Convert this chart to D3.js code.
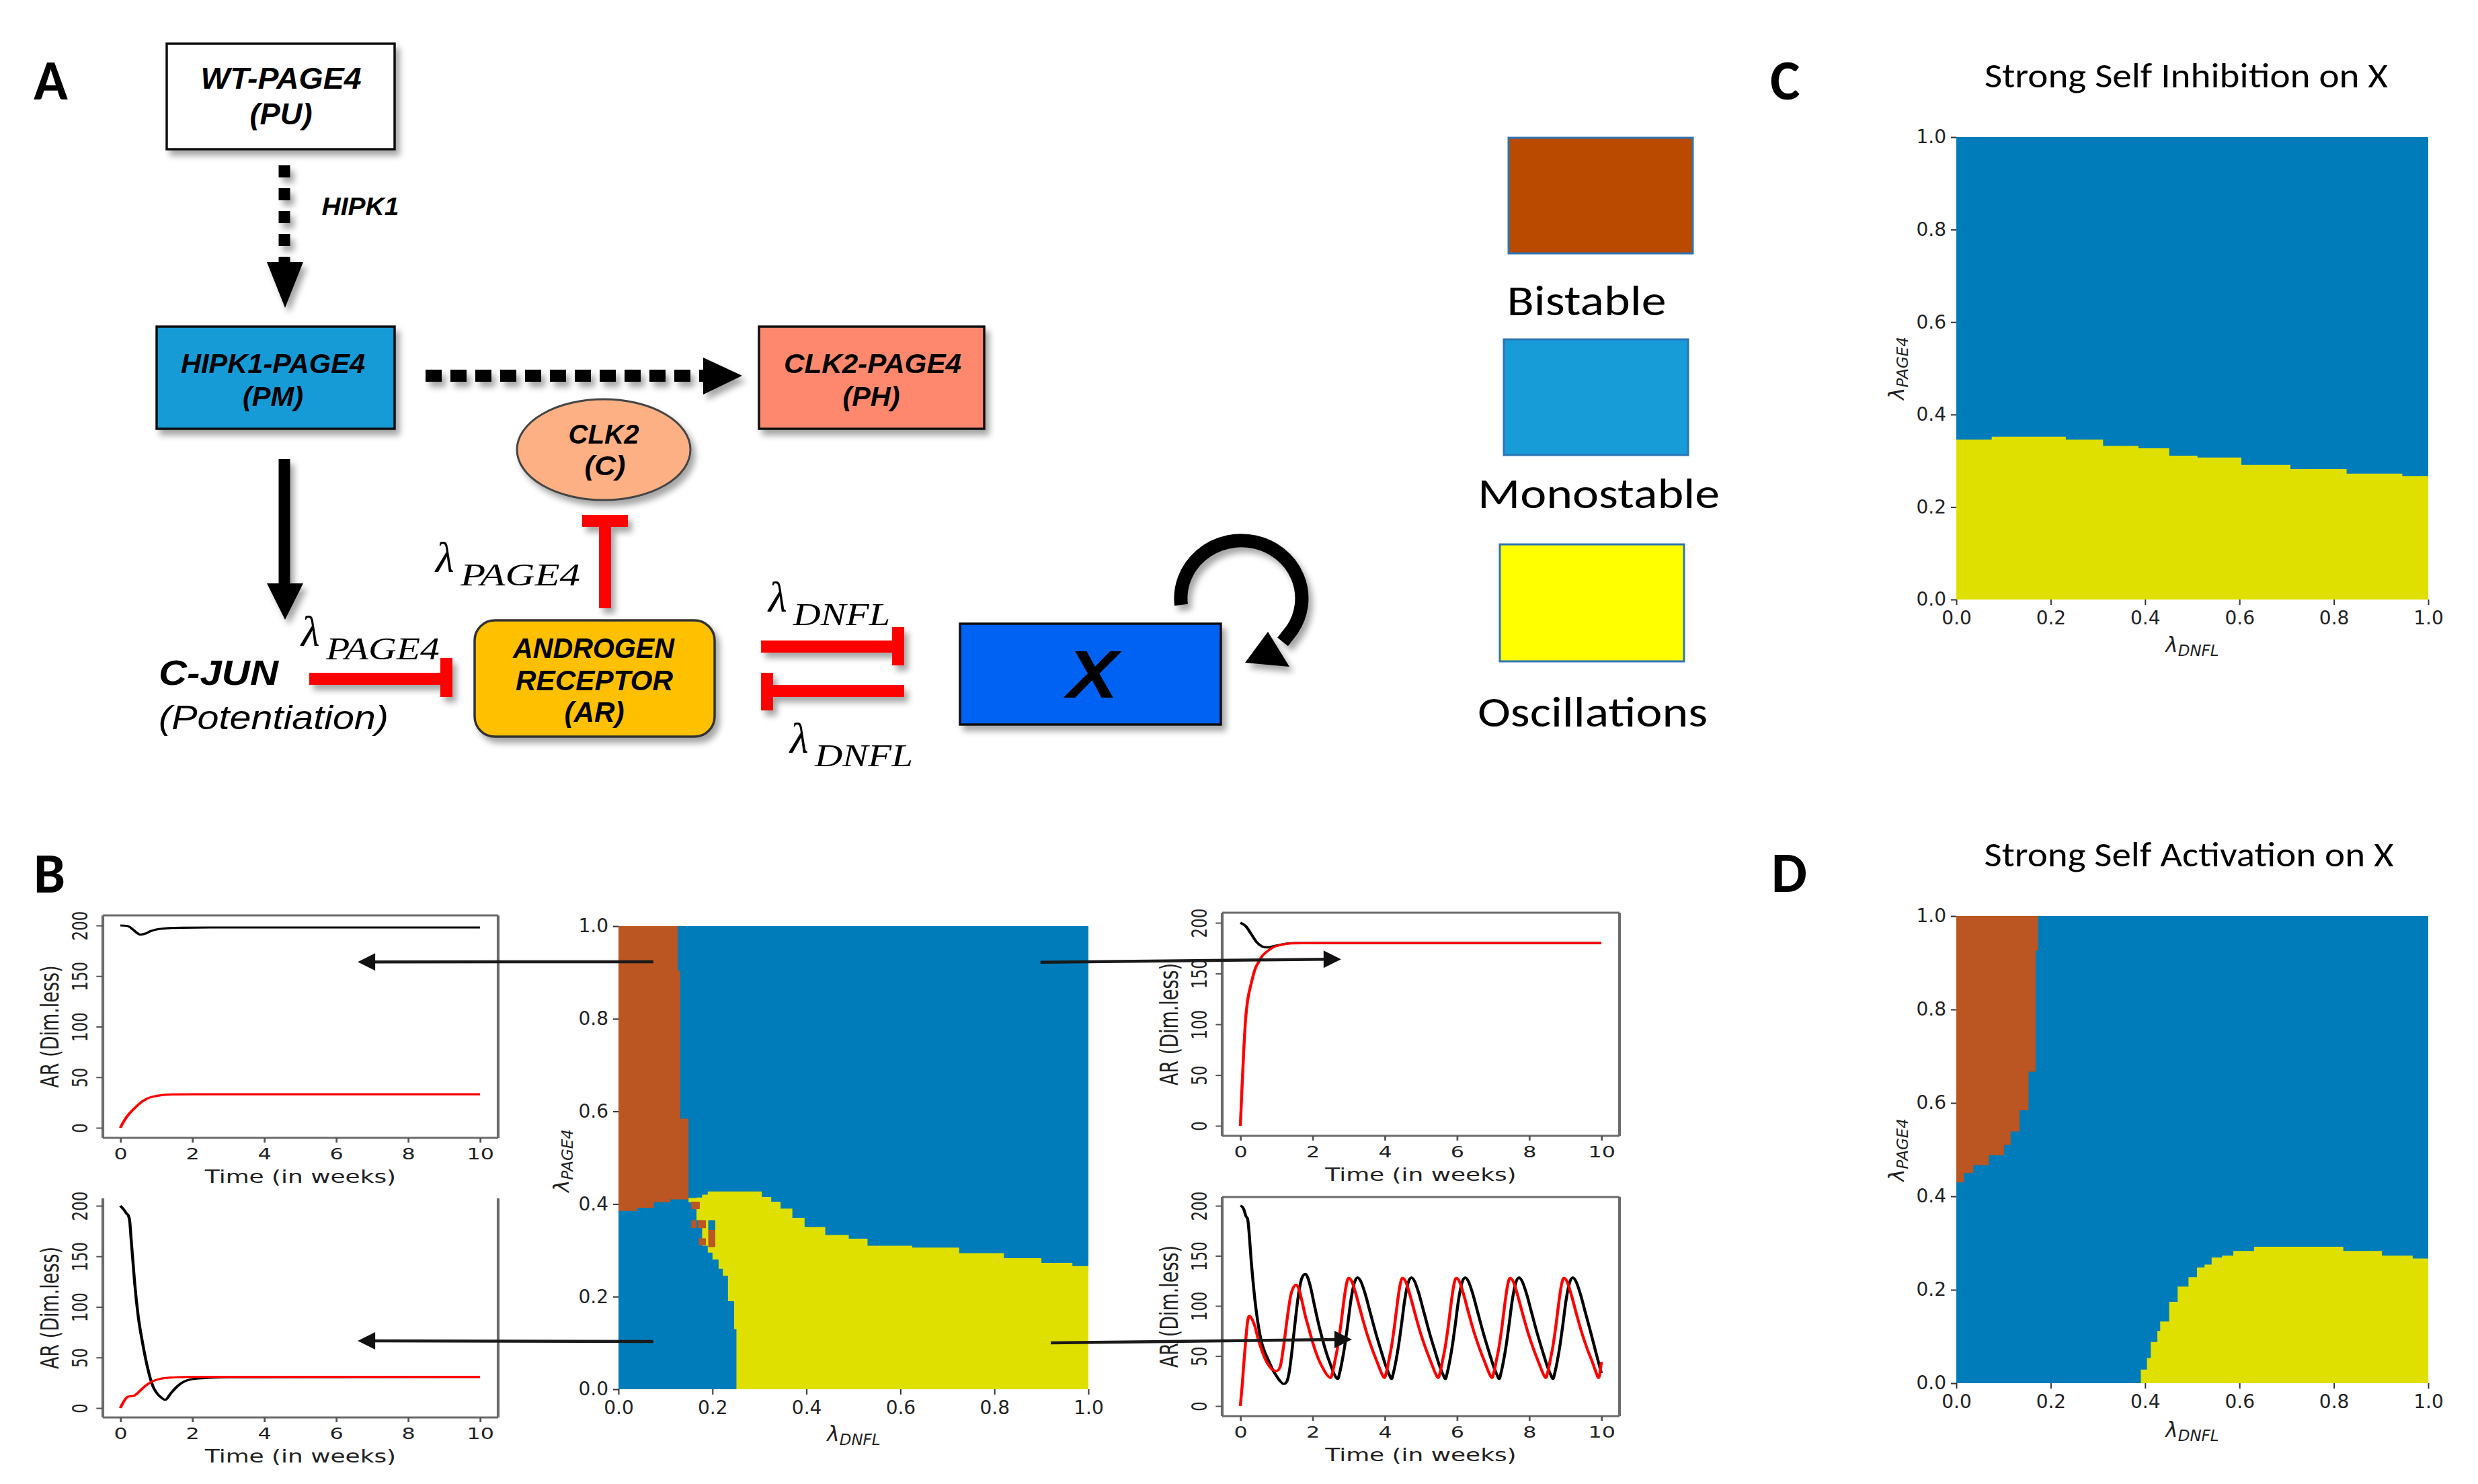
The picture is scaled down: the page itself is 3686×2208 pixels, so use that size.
<!DOCTYPE html>
<html><head><meta charset="utf-8">
<script src="https://cdn.jsdelivr.net/npm/d3@7/dist/d3.min.js"></script>
<style>body{margin:0;background:#fff}svg{display:block}</style>
</head><body>
<svg id="fig" width="3686" height="2208"></svg>
<script>
// ===================== DATA =====================
const lambdaTicks = [0, 0.2, 0.4, 0.6, 0.8, 1.0];
const timeTicks = [0, 2, 4, 6, 8, 10];
const arTicks = [0, 50, 100, 150, 200];
const phases = ["Bistable", "Monostable", "Oscillations"];

// Phase regions as step functions over λDNFL: [λDNFL, λPAGE4 low, λPAGE4 high]
const bBistable = [[0,0.385,1],[0.04,0.392,1],[0.075,0.404,1],[0.11,0.41,1],[0.126,0.41,0.904],[0.131,0.41,0.584],[0.149,0.41,0.584]];
const bOscillations = [[0.149,0.404,0.413],[0.166,0.365,0.414],[0.178,0.31,0.42],[0.19,0.295,0.427],[0.2,0.28,0.427],[0.213,0.26,0.427],[0.222,0.245,0.427],[0.233,0.19,0.427],[0.246,0.13,0.427],[0.251,0,0.427],[0.305,0,0.415],[0.325,0,0.405],[0.345,0,0.39],[0.37,0,0.37],[0.396,0,0.35],[0.44,0,0.333],[0.49,0,0.325],[0.53,0,0.31],[0.625,0,0.306],[0.725,0,0.294],[0.82,0,0.283],[0.9,0,0.273],[0.966,0,0.266],[1,0,0.266]];
// isolated cells near the triple point: [x0, x1, y0, y1, phase]
const bCells = [[0.155,0.173,0.389,0.405,"Bistable"],[0.155,0.166,0.348,0.365,"Bistable"],[0.169,0.186,0.348,0.365,"Bistable"],[0.171,0.186,0.311,0.326,"Bistable"],[0.191,0.206,0.307,0.344,"Bistable"],[0.191,0.206,0.344,0.365,"Monostable"]];
const cOscillations = [[0,0,0.346],[0.075,0,0.352],[0.232,0,0.346],[0.311,0,0.332],[0.386,0,0.327],[0.451,0,0.311],[0.511,0,0.307],[0.604,0,0.291],[0.708,0,0.282],[0.827,0,0.272],[0.945,0,0.267],[1,0,0.267]];
const dBistable = [[0,0.43,1],[0.016,0.45,1],[0.036,0.467,1],[0.069,0.488,1],[0.101,0.51,1],[0.115,0.539,1],[0.134,0.584,1],[0.153,0.667,1],[0.168,0.926,1],[0.173,0.926,1]];
const dOscillations = [[0.391,0,0.029],[0.404,0,0.054],[0.412,0,0.088],[0.426,0,0.112],[0.432,0,0.132],[0.451,0,0.174],[0.469,0,0.207],[0.492,0,0.227],[0.51,0,0.248],[0.526,0,0.254],[0.541,0,0.269],[0.563,0,0.273],[0.587,0,0.283],[0.631,0,0.292],[0.82,0,0.283],[0.902,0,0.273],[0.967,0,0.267],[1,0,0.267]];

// Time series: [time (weeks), AR]
const ts1Black = [[0,200],[0.2,199.5],[0.35,196],[0.45,193],[0.55,191],[0.7,192],[0.85,194.5],[1.0,196],[1.3,197.3],[1.7,197.8],[2.5,198],[10,198]];
const ts1Red = [[0,0],[0.1,6.6],[0.25,14],[0.4,19.5],[0.5,23],[0.75,29],[1.0,31.5],[1.25,32.7],[1.5,33],[2,33.2],[10,33.2]];
const ts2Black = [[0,200],[0.1,196],[0.18,192],[0.22,190.5],[0.26,185],[0.3,167],[0.35,145],[0.4,123],[0.5,90],[0.6,68],[0.75,41],[0.9,22],[1.0,15.5],[1.15,10],[1.25,8.2],[1.4,14.4],[1.6,22],[1.8,26.6],[2.0,28.6],[2.5,30],[3,30.5],[10,30.8]];
const ts2Red = [[0,0],[0.1,6.7],[0.2,11],[0.3,11.7],[0.4,12.5],[0.5,15.5],[0.7,22],[0.9,26.6],[1.1,28.8],[1.5,30.4],[2,30.8],[10,30.8]];
const ts3Black = [[0,200],[0.15,196.7],[0.3,189],[0.45,181],[0.6,176.8],[0.75,175.7],[0.9,176.8],[1.2,179],[1.5,180],[10,180]];
const ts3Red = [[0,0],[0.05,41],[0.1,78],[0.15,107],[0.2,123],[0.3,140],[0.4,153.6],[0.5,161],[0.6,167],[0.75,172],[0.9,175.7],[1.1,178],[1.4,179.7],[2,180],[10,180]];
const ts4Black = [[0,200],[0.05,199],[0.1,196],[0.15,190],[0.2,187],[0.25,170],[0.3,145],[0.35,125],[0.4,107],[0.5,80],[0.6,62],[0.7,52],[0.8,44],[0.9,36],[1.0,30],[1.1,25],[1.2,22],[1.28,24],[1.35,33],[1.42,52],[1.5,78],[1.58,103],[1.65,120],[1.72,129],[1.8,132],[1.88,127],[1.95,118],[2.05,101],[2.2,77],[2.35,57],[2.5,41],[2.6,32],[2.7,27],
 [2.75,33],[2.82,45],[2.9,62],[2.98,83],[3.06,105],[3.15,122],[3.25,128.5],[3.33,125],[3.45,113],[3.6,93],[3.75,73],[3.9,55],[4.03,40],[4.13,31],[4.19,27],
 [4.24,33],[4.31,45],[4.39,62],[4.47,83],[4.55,105],[4.64,122],[4.74,128.5],[4.82,125],[4.94,113],[5.09,93],[5.24,73],[5.39,55],[5.52,40],[5.62,31],[5.68,27],
 [5.73,33],[5.8,45],[5.88,62],[5.96,83],[6.04,105],[6.13,122],[6.23,128.5],[6.31,125],[6.43,113],[6.58,93],[6.73,73],[6.88,55],[7.01,40],[7.11,31],[7.17,27],
 [7.22,33],[7.29,45],[7.37,62],[7.45,83],[7.53,105],[7.62,122],[7.72,128.5],[7.8,125],[7.92,113],[8.07,93],[8.22,73],[8.37,55],[8.5,40],[8.6,31],[8.66,27],
 [8.71,33],[8.78,45],[8.86,62],[8.94,83],[9.02,105],[9.11,122],[9.21,128.5],[9.29,125],[9.41,113],[9.56,93],[9.71,73],[9.86,52],[10,33]];
const ts4Red = [[0,0],[0.05,20],[0.1,44],[0.15,66],[0.2,84],[0.25,90],[0.32,87],[0.4,80],[0.5,66],[0.6,55],[0.7,46],[0.8,40],[0.9,36],[1.0,35],[1.1,39],[1.2,60],[1.3,88],[1.4,111],[1.48,119],[1.55,121],[1.62,117],[1.7,106],[1.8,90],[1.9,77],[2.0,64],[2.1,53],[2.2,44],[2.3,37],[2.4,31],[2.5,28],
 [2.55,33],[2.62,45],[2.7,60],[2.78,80],[2.86,103],[2.93,120],[3.0,128],[3.08,125],[3.2,112],[3.35,92],[3.5,73],[3.65,57],[3.8,43],[3.95,30],[3.99,28],
 [4.04,33],[4.11,45],[4.19,60],[4.27,80],[4.35,103],[4.42,120],[4.49,128],[4.57,125],[4.69,112],[4.84,92],[4.99,73],[5.14,57],[5.29,43],[5.44,30],[5.48,28],
 [5.53,33],[5.6,45],[5.68,60],[5.76,80],[5.84,103],[5.91,120],[5.98,128],[6.06,125],[6.18,112],[6.33,92],[6.48,73],[6.63,57],[6.78,43],[6.93,30],[6.97,28],
 [7.02,33],[7.09,45],[7.17,60],[7.25,80],[7.33,103],[7.4,120],[7.47,128],[7.55,125],[7.67,112],[7.82,92],[7.97,73],[8.12,57],[8.27,43],[8.42,30],[8.46,28],
 [8.51,33],[8.58,45],[8.66,60],[8.74,80],[8.82,103],[8.89,120],[8.96,128],[9.04,125],[9.16,112],[9.31,92],[9.46,73],[9.61,57],[9.76,43],[9.88,31],[9.92,28],[9.97,35],[10,44]];

// Sampled parameter points in panel B [λDNFL, λPAGE4] and where the arrow lands [t, AR]
const bSamples = [
  {inset:"ts1", point:[0.074,0.923], target:[6.6,164]},
  {inset:"ts2", point:[0.074,0.103], target:[6.6,66.4]},
  {inset:"ts3", point:[0.898,0.922], target:[2.79,164]},
  {inset:"ts4", point:[0.92,0.1],   target:[3.09,66.4]}
];

// ===================== STYLE / LAYOUT =====================
const heatColor = {Bistable:"#BB5522", Monostable:"#017CBA", Oscillations:"#DFE000"};
const legendColor = {Bistable:"#BA4A00", Monostable:"#179CD8", Oscillations:"#FFFF00"};
const SANS = "'Liberation Sans', Arial, sans-serif";
const CAL = "Carlito, Calibri, 'Open Sans', sans-serif";
const DV = "'DejaVu Sans', sans-serif";
const SERIF = "'Liberation Serif', 'DejaVu Serif', serif";
const STRETCH = 1.38;

const svg = d3.select("#fig");
const defs = svg.append("defs");
defs.append("filter").attr("id","sh").attr("x","-30%").attr("y","-30%").attr("width","170%").attr("height","180%")
  .append("feDropShadow").attr("dx",6).attr("dy",8).attr("stdDeviation",5).attr("flood-color","#000").attr("flood-opacity",0.35);

function txt(g, str, x, y, o){
  const t = g.append("text").text(str).attr("y", y)
    .attr("font-family", o.ff || SANS).attr("font-size", o.fs)
    .attr("font-weight", o.fw || "normal").attr("font-style", o.st || "normal")
    .attr("fill", o.fill || "#000");
  if (o.w){
    const x0 = (o.anchor === "start") ? x : x - o.w/2;
    t.attr("x", x0).attr("text-anchor","start").attr("textLength", o.w).attr("lengthAdjust","spacingAndGlyphs");
  } else {
    t.attr("x", x).attr("text-anchor", o.anchor || "middle");
  }
  return t;
}

// ===================== PANEL LETTERS =====================
[["A",50,148],["B",50,1328],["C",2633,148],["D",2635,1327]].forEach(([l,x,y])=>
  txt(svg,l,x,y,{ff:CAL,fs:84,fw:"bold",anchor:"start"}));

// ===================== PANEL A: DIAGRAM =====================
const dia = svg.append("g");
const shapes = dia.append("g").attr("filter","url(#sh)");
function rect(x,y,w,h,fill,stroke,rx){
  shapes.append("rect").attr("x",x).attr("y",y).attr("width",w).attr("height",h).attr("rx",rx||0)
    .attr("fill",fill).attr("stroke",stroke||"#111").attr("stroke-width",3.5);
}
rect(248,65,339,157,"#ffffff");
rect(233,486,354,152,"#179BD7");
rect(1129,486,335,152,"#FE886D");
shapes.append("ellipse").attr("cx",898).attr("cy",669).attr("rx",129).attr("ry",75)
  .attr("fill","#FDB083").attr("stroke","#444").attr("stroke-width",3);
rect(706,923,357,173,"#FFC000","#333",30);
rect(1428,928,388,150,"#0062F2");

// dashed arrows
shapes.append("line").attr("x1",423).attr("y1",246).attr("x2",423).attr("y2",392)
  .attr("stroke","#000").attr("stroke-width",17).attr("stroke-dasharray","18,16");
shapes.append("polygon").attr("points","397,390 451,390 424,458").attr("fill","#000");
shapes.append("line").attr("x1",633).attr("y1",559).attr("x2",1048).attr("y2",559)
  .attr("stroke","#000").attr("stroke-width",18).attr("stroke-dasharray","24,13");
shapes.append("polygon").attr("points","1046,532 1046,587 1104,559").attr("fill","#000");
// solid arrow down
shapes.append("line").attr("x1",423).attr("y1",683).attr("x2",423).attr("y2",872)
  .attr("stroke","#000").attr("stroke-width",17);
shapes.append("polygon").attr("points","397,868 451,868 424,922").attr("fill","#000");
// red inhibition arrows
const RED = "#FF0000";
function inhib(x1,y1,x2,y2,bx,by,bw,bh){
  shapes.append("line").attr("x1",x1).attr("y1",y1).attr("x2",x2).attr("y2",y2).attr("stroke",RED).attr("stroke-width",18);
  shapes.append("rect").attr("x",bx).attr("y",by).attr("width",bw).attr("height",bh).attr("fill",RED);
}
inhib(460,1010,660,1010, 655,979,18,58);
inhib(900,905,900,780, 866,766,68,18);
inhib(1132,962,1330,962, 1327,933,18,57);
inhib(1345,1028,1148,1028, 1132,1001,18,56);
// self loop on X
shapes.append("path").attr("d","M1757,900 A90,86 0 1,1 1922,937 L1908,955")
  .attr("fill","none").attr("stroke","#000").attr("stroke-width",20);
shapes.append("polygon").attr("points","1886,940 1918,992 1852,986").attr("fill","#000");

// diagram text
const BI = {fw:"bold", st:"italic"};
[
 ["WT-PAGE4",418,132,44,239],["(PU)",418,185,44,93],
 ["HIPK1-PAGE4",406,555,40,274],["(PM)",406,604,40,90],
 ["CLK2-PAGE4",1298,555,40,264],["(PH)",1296,604,40,85],
 ["CLK2",898,660,40,105],["(C)",900,707,40,61],
 ["ANDROGEN",883,979,42,240],["RECEPTOR",884,1027,42,234],["(AR)",884,1074,42,89],
 ["X",1625,1038,100,76],["HIPK1",536,320,36,115],["C-JUN",325,1019,52,178]
].forEach(([s,x,y,fs,w])=>txt(dia,s,x,y,{fs:fs,w:w,fw:"bold",st:"italic"}));
txt(dia,"(Potentiation)",407,1085,{fs:50,w:342,st:"italic"});
function lam(x,y,sub,subW){
  txt(dia,"λ",x,y,{ff:SERIF,fs:64,st:"italic",anchor:"start"});
  txt(dia,sub,x+37,y+20,{ff:SERIF,fs:46,st:"italic",anchor:"start",w:subW});
}
lam(448,961,"PAGE4",169);
lam(648,851,"PAGE4",178);
lam(1143,910,"DNFL",144);
lam(1175,1120,"DNFL",146);

// ===================== LEGEND =====================
const legendBoxes = [[2244,205,274,172],[2237,505,274,172],[2231,810,274,174]];
const legendLabels = [[2360,469,237],[2378,756,360],[2369,1081,342]];
phases.forEach((p,i)=>{
  const b = legendBoxes[i];
  svg.append("rect").attr("x",b[0]).attr("y",b[1]).attr("width",b[2]).attr("height",b[3])
    .attr("fill",legendColor[p]).attr("stroke","#2E75B6").attr("stroke-width",3);
  const l = legendLabels[i];
  txt(svg,p,l[0],l[1],{ff:CAL,fs:64,w:l[2]});
});

// ===================== PHASE MAPS =====================
function phaseMap(box, regions, cells, ylab, xlab){
  const g = svg.append("g");
  const x = d3.scaleLinear().domain([0,1]).range([box.x0, box.x1]);
  const y = d3.scaleLinear().domain([0,1]).range([box.y1, box.y0]);
  g.append("rect").attr("x",x(0)).attr("y",y(1)).attr("width",x(1)-x(0)).attr("height",y(0)-y(1))
    .attr("fill",heatColor.Monostable);
  const area = d3.area().x(d=>x(d[0])).y0(d=>y(d[1])).y1(d=>y(d[2])).curve(d3.curveStepAfter);
  regions.forEach(([ph,data])=> g.append("path").attr("d",area(data)).attr("fill",heatColor[ph]));
  (cells||[]).forEach(c=> g.append("rect").attr("x",x(c[0])).attr("width",x(c[1])-x(c[0]))
      .attr("y",y(c[3])).attr("height",y(c[2])-y(c[3])).attr("fill",heatColor[c[4]]));
  const fmt = d3.format(".1f");
  const xa = g.append("g").attr("transform",`translate(0,${box.y1})`)
    .call(d3.axisBottom(x).tickValues(lambdaTicks).tickFormat(fmt).tickSize(8).tickPadding(9));
  const ya = g.append("g").attr("transform",`translate(${box.x0},0)`)
    .call(d3.axisLeft(y).tickValues(lambdaTicks).tickFormat(fmt).tickSize(8).tickPadding(7));
  [xa,ya].forEach(a=>{
    a.select(".domain").remove();
    a.attr("font-family",DV).attr("font-size",28).attr("color","#333");
    a.selectAll("line").attr("stroke-width",2);
    a.selectAll("text").attr("fill","#222");
  });
  // axis labels
  const yl = g.append("text").attr("transform",`translate(${ylab[0]},${ylab[1]}) rotate(-90)`)
    .attr("text-anchor","middle").attr("font-family",DV).attr("font-style","italic").attr("fill","#222");
  yl.append("tspan").attr("font-size",31).text("λ");
  yl.append("tspan").attr("font-size",23).attr("dy",6).text("PAGE4");
  const xl = g.append("text").attr("x",xlab[0]).attr("y",xlab[1])
    .attr("text-anchor","middle").attr("font-family",DV).attr("font-style","italic").attr("fill","#222");
  xl.append("tspan").attr("font-size",31).text("λ");
  xl.append("tspan").attr("font-size",23).attr("dy",6).text("DNFL");
  return {x, y};
}
const bMap = phaseMap({x0:920,x1:1619,y0:1378,y1:2067},
  [["Oscillations",bOscillations],["Bistable",bBistable]], bCells, [846,1727],[1270,2144]);
phaseMap({x0:2910,x1:3612,y0:204,y1:892}, [["Oscillations",cOscillations]], null, [2832,548],[3261,970]);
phaseMap({x0:2910,x1:3612,y0:1363,y1:2058}, [["Bistable",dBistable],["Oscillations",dOscillations]], null, [2832,1711],[3261,2138]);

txt(svg,"Strong Self Inhibition on X",3252,130,{ff:CAL,fs:52,w:600});
txt(svg,"Strong Self Activation on X",3256,1289,{ff:CAL,fs:52,w:609});

// ===================== TIME-SERIES INSETS =====================
const insetCfg = {
  ts1:{fx0:153,fx1:741,fy0:1362,fy1:1693,t0:179,t10:714,v0:1678,v200:1377,top:true, data:[ts1Black,ts1Red]},
  ts2:{fx0:153,fx1:741,fy0:1783,fy1:2109,t0:179,t10:714,v0:2095,v200:1794,top:false,data:[ts2Black,ts2Red]},
  ts3:{fx0:1818,fx1:2409,fy0:1358,fy1:1690,t0:1845,t10:2382,v0:1675,v200:1373,top:true, data:[ts3Black,ts3Red]},
  ts4:{fx0:1818,fx1:2409,fy0:1781,fy1:2107,t0:1845,t10:2382,v0:2092,v200:1794,top:true, data:[ts4Black,ts4Red]}
};
const insetPage = {};
Object.entries(insetCfg).forEach(([key,cfg])=>{
  const s = STRETCH;
  const g = svg.append("g").attr("transform",`translate(${cfg.fx0},0) scale(${s},1)`);
  const nx = X => (X - cfg.fx0)/s;
  const x = d3.scaleLinear().domain([0,10]).range([nx(cfg.t0), nx(cfg.t10)]);
  const y = d3.scaleLinear().domain([0,200]).range([cfg.v0, cfg.v200]);
  insetPage[key] = {x: t => cfg.fx0 + s*x(t), y: y};
  const R = nx(cfg.fx1);
  const line = d3.line().x(d=>x(d[0])).y(d=>y(d[1])).curve(d3.curveMonotoneX);
  g.append("path").attr("d",line(cfg.data[0])).attr("fill","none").attr("stroke","#000").attr("stroke-width",3.2);
  g.append("path").attr("d",line(cfg.data[1])).attr("fill","none").attr("stroke","#FF0000").attr("stroke-width",3.2);
  const fr = g.append("g").attr("stroke","#6b6b6b").attr("stroke-width",3).attr("fill","none");
  fr.append("line").attr("x1",0).attr("x2",R).attr("y1",cfg.fy1).attr("y2",cfg.fy1);
  fr.append("line").attr("x1",0).attr("x2",0).attr("y1",cfg.fy0).attr("y2",cfg.fy1);
  fr.append("line").attr("x1",R).attr("x2",R).attr("y1",cfg.fy0).attr("y2",cfg.fy1);
  if (cfg.top) fr.append("line").attr("x1",0).attr("x2",R).attr("y1",cfg.fy0).attr("y2",cfg.fy0);
  const xa = g.append("g").attr("transform",`translate(0,${cfg.fy1})`)
    .call(d3.axisBottom(x).tickValues(timeTicks).tickSize(7).tickPadding(9));
  const ya = g.append("g").call(d3.axisLeft(y).tickValues(arTicks).tickSize(7));
  [xa,ya].forEach(a=>{
    a.select(".domain").remove();
    a.attr("font-family",DV).attr("font-size",23).attr("color","#555");
    a.selectAll("line").attr("stroke-width",2);
    a.selectAll("text").attr("fill","#222");
  });
  ya.selectAll("text").attr("x",0).attr("dy",null).attr("text-anchor","middle")
    .attr("transform","translate(-17,0) rotate(-90)");
  g.append("text").attr("x",R/2).attr("y",cfg.fy1+67).attr("text-anchor","middle")
    .attr("font-family",DV).attr("font-size",26).attr("fill","#222").text("Time (in weeks)");
  g.append("text").attr("transform",`translate(-48,${(cfg.fy0+cfg.fy1)/2}) rotate(-90)`)
    .attr("text-anchor","middle").attr("font-family",DV).attr("font-size",27).attr("fill","#222").text("AR (Dim.less)");
});

// ===================== ARROWS FROM PHASE MAP B TO INSETS =====================
bSamples.forEach(sm=>{
  const x1 = bMap.x(sm.point[0]), y1 = bMap.y(sm.point[1]);
  const ip = insetPage[sm.inset];
  const x2 = ip.x(sm.target[0]), y2 = ip.y(sm.target[1]);
  const dir = Math.sign(x2 - x1);
  const hl = 26, hw = 13;
  svg.append("line").attr("x1",x1).attr("y1",y1).attr("x2",x2 - dir*hl*0.8).attr("y2",y2)
    .attr("stroke","#1a1a1a").attr("stroke-width",4.5);
  svg.append("polygon").attr("fill","#111")
    .attr("points",`${x2},${y2} ${x2-dir*hl},${y2-hw} ${x2-dir*hl},${y2+hw}`);
});
</script>
</body></html>
